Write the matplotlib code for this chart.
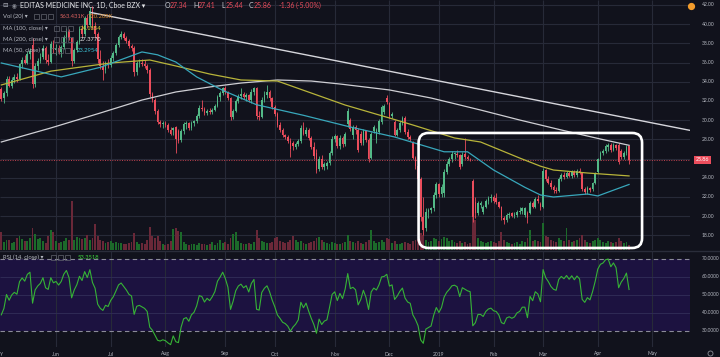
import numpy as np
import matplotlib
matplotlib.use("Agg")
import matplotlib.pyplot as plt
from matplotlib.patches import FancyBboxPatch, Rectangle
from matplotlib.lines import Line2D
import matplotlib.transforms as mtransforms

plt.rcParams['font.family'] = ['Lato', 'DejaVu Sans']

# ---------------- data (daily bars, index 0 = 1 Jun 2018) ----------------
first_index = -21
opens = [33.2, 32.3, 32.8, 34.3, 33.6, 34.2, 34.5, 34.3, 35.8, 36.3,
         36.0, 36.9, 37.8, 33.8, 35.6, 36.2, 36.6, 37.5, 36.3, 36.1,
         37.9, 37.3, 37.5, 37.1, 37.6, 38.7, 39.3, 38.6, 36.2, 37.3,
         38.1, 39.5, 39.0, 40.6, 39.9, 41.4, 39.8, 39.0, 36.4, 35.6,
         35.2, 35.9, 35.7, 36.5, 37.0, 37.8, 38.7, 39.0, 38.6, 38.2,
         37.7, 37.5, 35.0, 35.9, 36.0, 35.8, 35.6, 35.2, 32.7, 32.1,
         31.0, 29.8, 29.6, 29.7, 29.5, 29.0, 29.0, 29.3, 28.9, 27.9,
         28.9, 29.6, 29.7, 29.2, 29.7, 29.9, 30.4, 31.3, 31.2, 30.7,
         31.0, 30.8, 31.1, 31.5, 32.4, 32.8, 33.3, 32.9, 32.3, 30.3,
         31.0, 32.0, 32.5, 32.7, 32.4, 32.6, 32.1, 32.9, 33.3, 30.4,
         30.3, 32.1, 32.6, 32.9, 32.3, 31.4, 30.6, 29.5, 29.0, 28.4,
         28.2, 27.8, 27.6, 27.2, 27.5, 27.8, 29.2, 28.6, 29.0, 28.1,
         27.2, 26.6, 24.9, 26.0, 25.1, 25.2, 25.5, 26.6, 28.0, 28.3,
         27.3, 28.1, 27.5, 29.6, 30.0, 28.5, 29.3, 29.0, 28.6, 27.6,
         28.9, 27.9, 26.1, 28.9, 28.0, 28.8, 29.8, 30.8, 32.3, 31.8,
         30.4, 29.8, 28.5, 29.0, 29.7, 30.2, 28.8, 28.2, 27.6, 26.1,
         25.2, 23.9, 19.9, 18.8, 20.4, 20.6, 20.8, 22.2, 23.3, 22.3,
         22.4, 24.6, 25.4, 25.9, 26.5, 26.5, 26.4, 25.4, 26.5, 26.2,
         26.0, 23.7, 21.5, 20.3, 21.2, 20.4, 21.0, 21.6, 21.9, 22.0,
         21.9, 21.5, 21.0, 19.8, 19.6, 20.1, 20.3, 20.0, 20.1, 20.4,
         20.5, 20.1, 20.3, 20.3, 21.4, 21.0, 21.8, 21.3, 21.0, 24.8,
         23.9, 23.5, 23.0, 22.7, 22.6, 23.9, 24.3, 24.1, 24.5, 24.2,
         24.6, 24.3, 24.7, 24.5, 22.8, 22.5, 22.9, 22.8, 23.4, 24.6,
         26.0, 26.6, 26.8, 27.2, 27.4, 26.9, 27.4, 27.4, 26.8, 26.2,
         26.6, 27.34]
highs = [33.5, 33.0, 34.6, 34.6, 34.5, 34.8, 34.9, 36.0, 36.6, 36.8,
         37.2, 37.5, 38.6, 35.9, 36.5, 37.0, 37.8, 37.7, 36.9, 38.2,
         38.3, 37.9, 37.8, 37.8, 38.9, 39.6, 39.5, 38.7, 37.5, 38.3,
         39.8, 39.9, 40.8, 41.0, 41.8, 41.9, 40.2, 39.2, 37.3, 36.2,
         36.2, 36.4, 36.8, 37.2, 38.0, 38.9, 39.3, 39.2, 38.8, 38.4,
         37.9, 37.7, 36.2, 36.4, 36.4, 36.3, 35.8, 35.4, 32.9, 32.3,
         31.2, 30.0, 29.9, 29.9, 29.7, 29.3, 29.3, 29.4, 29.1, 29.1,
         29.8, 29.9, 29.8, 29.9, 30.0, 30.6, 31.6, 32.1, 31.4, 31.2,
         31.3, 31.3, 31.7, 32.6, 33.0, 33.5, 33.6, 33.0, 32.4, 31.2,
         32.2, 32.7, 33.3, 32.9, 32.8, 32.7, 33.2, 33.5, 33.5, 30.9,
         32.4, 33.0, 33.7, 33.1, 32.4, 31.6, 30.8, 29.8, 29.2, 28.6,
         28.4, 28.1, 27.8, 27.7, 28.0, 29.5, 29.8, 29.3, 29.2, 28.3,
         27.7, 27.0, 26.3, 26.4, 25.6, 25.7, 26.8, 28.3, 28.6, 28.5,
         28.4, 28.3, 28.8, 31.3, 30.2, 29.5, 29.5, 29.2, 28.9, 29.1,
         29.0, 28.1, 28.8, 29.5, 29.2, 30.1, 31.6, 31.7, 32.6, 31.9,
         30.8, 30.0, 29.2, 29.9, 30.4, 30.4, 29.1, 28.5, 27.8, 26.3,
         25.5, 24.1, 22.0, 20.8, 20.8, 21.0, 22.5, 23.6, 23.5, 23.3,
         24.9, 25.7, 26.2, 26.8, 26.7, 26.9, 26.5, 26.7, 28.1, 26.4,
         26.1, 23.9, 22.0, 21.6, 21.6, 21.2, 21.8, 22.1, 22.3, 22.2,
         22.4, 21.6, 21.1, 20.0, 20.3, 20.4, 20.4, 20.4, 20.6, 21.0,
         21.0, 21.0, 20.5, 21.6, 21.6, 22.0, 22.2, 21.5, 25.0, 24.9,
         24.2, 23.8, 23.2, 23.0, 24.1, 24.5, 24.6, 24.7, 24.7, 24.8,
         24.8, 24.9, 25.0, 24.6, 23.0, 23.1, 23.0, 23.6, 24.6, 26.1,
         26.8, 27.0, 27.5, 27.6, 27.6, 27.6, 27.5, 27.6, 27.0, 26.8,
         27.4, 27.41]
lows = [32.0, 31.8, 32.5, 33.4, 33.3, 33.9, 34.0, 34.2, 35.4, 35.8,
        35.8, 36.4, 33.3, 33.5, 35.2, 35.9, 36.4, 36.0, 35.7, 36.0,
        37.0, 36.8, 36.9, 36.6, 37.4, 38.4, 38.3, 35.6, 36.0, 37.1,
        37.9, 38.7, 38.8, 39.6, 39.7, 39.5, 38.6, 36.0, 35.3, 34.2,
        34.9, 35.4, 35.5, 36.2, 36.8, 37.6, 38.4, 38.3, 38.0, 37.5,
        37.2, 34.6, 34.7, 35.5, 35.6, 35.4, 34.9, 32.4, 31.9, 30.6,
        29.6, 29.3, 29.2, 29.3, 28.8, 28.4, 28.5, 26.6, 27.6, 27.7,
        28.6, 29.1, 29.0, 29.0, 29.4, 29.7, 30.2, 30.9, 30.5, 30.5,
        30.6, 30.6, 30.9, 31.4, 32.0, 32.6, 32.7, 32.1, 30.0, 30.1,
        30.8, 31.8, 32.2, 32.2, 32.0, 31.9, 31.8, 32.6, 30.1, 30.0,
        30.2, 31.9, 32.3, 32.0, 31.2, 30.4, 29.3, 28.8, 28.2, 28.0,
        27.6, 26.2, 26.9, 27.0, 27.3, 27.6, 28.5, 28.3, 27.9, 27.0,
        26.0, 24.5, 24.7, 24.9, 24.8, 24.9, 25.3, 26.4, 27.7, 27.1,
        27.0, 27.2, 27.3, 29.3, 28.9, 28.0, 28.6, 26.7, 27.4, 27.4,
        27.7, 25.6, 25.9, 28.7, 27.6, 28.6, 29.6, 30.6, 31.7, 30.2,
        30.2, 28.3, 28.3, 28.8, 29.5, 28.6, 28.0, 27.8, 25.9, 24.9,
        23.6, 19.5, 18.0, 18.5, 19.8, 20.3, 20.5, 21.9, 22.0, 22.0,
        22.0, 24.4, 25.2, 25.6, 26.0, 26.2, 24.9, 25.2, 25.9, 25.8,
        25.7, 19.4, 19.8, 20.1, 20.8, 20.2, 20.8, 21.3, 21.5, 21.4,
        21.3, 20.8, 19.6, 19.2, 19.4, 19.8, 19.9, 19.8, 19.9, 20.2,
        20.2, 19.9, 19.3, 20.2, 20.8, 20.8, 21.4, 20.6, 20.8, 23.7,
        23.3, 22.8, 22.4, 22.4, 22.5, 23.7, 23.9, 24.0, 24.1, 24.0,
        24.1, 24.1, 24.4, 22.6, 22.3, 22.3, 22.5, 22.6, 23.3, 24.5,
        25.8, 26.4, 26.6, 26.8, 26.7, 26.8, 26.9, 25.4, 26.0, 25.9,
        26.4, 25.44]
closes = [32.2, 32.8, 34.3, 33.6, 34.2, 34.5, 34.3, 35.8, 36.3, 36.0,
          36.9, 37.2, 33.8, 35.6, 36.2, 36.6, 37.5, 36.3, 36.1, 37.9,
          37.3, 37.5, 37.1, 37.6, 38.7, 39.3, 38.6, 36.2, 37.3, 38.1,
          39.5, 39.0, 40.6, 39.9, 41.4, 39.8, 39.0, 36.4, 35.6, 35.2,
          35.9, 35.7, 36.5, 37.0, 37.8, 38.7, 39.0, 38.6, 38.2, 37.7,
          37.5, 35.0, 35.9, 36.0, 35.8, 35.6, 35.2, 32.7, 32.1, 31.0,
          29.8, 29.6, 29.7, 29.5, 29.0, 28.6, 29.2, 28.0, 27.8, 28.9,
          29.6, 29.7, 29.2, 29.7, 29.9, 30.4, 31.3, 31.2, 30.7, 31.0,
          30.8, 31.1, 31.5, 32.4, 32.8, 33.3, 32.9, 32.3, 30.3, 31.0,
          32.0, 32.5, 32.7, 32.4, 32.6, 32.1, 32.9, 33.3, 30.4, 30.3,
          32.1, 32.6, 32.9, 32.3, 31.4, 30.6, 29.5, 29.0, 28.4, 28.2,
          27.8, 27.0, 27.3, 27.5, 27.8, 29.2, 28.6, 29.0, 28.1, 27.2,
          26.3, 24.8, 26.0, 25.1, 25.4, 25.5, 26.6, 28.0, 28.3, 27.3,
          28.1, 27.5, 28.6, 30.9, 29.1, 29.3, 29.0, 26.9, 27.6, 28.9,
          27.9, 25.9, 28.6, 29.3, 29.0, 29.9, 31.4, 31.5, 31.9, 30.4,
          30.6, 28.5, 29.0, 29.7, 30.2, 28.8, 28.2, 28.0, 26.1, 25.2,
          23.9, 19.9, 18.6, 20.4, 20.6, 20.8, 22.2, 23.3, 22.3, 23.0,
          24.6, 25.4, 25.9, 26.5, 26.6, 26.4, 25.1, 26.4, 26.2, 26.0,
          25.9, 19.9, 20.3, 21.4, 21.4, 21.0, 21.6, 21.9, 22.0, 21.6,
          21.5, 21.0, 19.8, 19.6, 20.1, 20.2, 20.0, 20.1, 20.4, 20.5,
          20.8, 20.8, 19.8, 21.4, 21.0, 21.8, 21.6, 20.9, 24.7, 23.9,
          23.5, 23.0, 22.7, 22.6, 23.9, 24.3, 24.1, 24.5, 24.2, 24.6,
          24.3, 24.7, 24.5, 22.8, 22.5, 22.9, 22.7, 23.4, 24.4, 25.9,
          26.6, 26.8, 27.3, 27.4, 26.9, 27.4, 27.1, 25.6, 26.2, 26.6,
          27.22, 25.86]
volumes_k = [1980, 880, 1100, 1100, 770, 880, 1320, 1540, 1210, 990,
             990, 1320, 2420, 1760, 1210, 1320, 990, 770, 1540, 2200,
             1980, 990, 770, 880, 990, 1320, 1100, 5390, 1100, 1430,
             1320, 1210, 1320, 1650, 1100, 1320, 2860, 1540, 1100, 990,
             770, 880, 990, 770, 880, 770, 770, 660, 660, 770,
             880, 1870, 880, 660, 770, 660, 1100, 2530, 1540, 1320,
             1540, 990, 660, 550, 660, 990, 2310, 2420, 2090, 1980,
             880, 660, 550, 660, 660, 550, 770, 660, 660, 550,
             660, 880, 550, 770, 1100, 770, 880, 660, 1320, 1760,
             1980, 990, 770, 660, 660, 770, 660, 880, 2200, 1320,
             990, 880, 770, 770, 880, 1320, 1430, 990, 880, 770,
             880, 1100, 1540, 1100, 880, 990, 770, 660, 770, 880,
             990, 1320, 1430, 1100, 880, 770, 660, 880, 770, 660,
             660, 770, 880, 1650, 990, 880, 770, 990, 770, 660,
             880, 1100, 2200, 990, 770, 880, 1100, 880, 1320, 1210,
             770, 990, 660, 660, 770, 880, 770, 660, 990, 1100,
             1210, 1870, 1650, 1100, 880, 990, 1320, 1210, 990, 1210,
             1430, 1320, 990, 1100, 880, 770, 990, 770, 880, 660,
             770, 4950, 3300, 1320, 990, 880, 770, 880, 990, 880,
             770, 990, 1980, 1100, 880, 770, 660, 770, 880, 660,
             990, 880, 1320, 2200, 990, 1100, 990, 880, 2970, 1540,
             1430, 1100, 990, 880, 1320, 1100, 990, 2420, 1100, 880,
             990, 1100, 1320, 1650, 1100, 880, 770, 990, 1100, 1320,
             1100, 880, 770, 990, 880, 770, 880, 1320, 990, 770,
             880, 563.431]
# closes of the bars just before the visible window (RSI warm-up only)
warmup_closes = [34.6, 35.4, 34.9, 35.8, 35.1, 34.2, 34.8, 33.9, 34.5, 33.6,
                 34.1, 33.2, 33.8, 33.0, 33.4]

# moving averages (bar index, value)
ma50_idx = [-21, -9, 2, 17, 30, 33, 39, 46, 54, 64, 77, 95, 113, 130, 149, 158,
            168, 180, 186, 191, 204, 208, 214, 220]
ma50_val = [35.95, 35.2, 34.5, 35.5, 36.8, 37.1, 36.8, 36.05, 34.5, 33.1, 31.6, 30.5,
            29.28, 28.24, 26.7, 26.7, 24.8, 23.0, 22.2, 21.99, 22.3, 22.1, 22.7, 23.2954]
ma100_idx = [-21, -2, 21, 36, 46, 59, 71, 85, 98, 111, 128, 137, 153, 163, 178, 186,
             191, 204, 220]
ma100_val = [33.66, 35.1, 35.95, 36.26, 35.64, 34.8, 34.18, 34.07, 32.82, 31.57, 30.22,
             29.49, 28.14, 27.72, 26.05, 25.2, 24.8, 24.49, 24.1854]
ma200_idx = [-21, -2, 17, 33, 46, 59, 71, 85, 98, 109, 128, 144, 163, 178, 194, 209, 220]
ma200_val = [27.72, 29.18, 30.74, 32.09, 32.93, 33.45, 33.86, 34.18, 34.07, 33.76, 33.14,
             32.3, 31.05, 30.01, 28.97, 28.03, 27.377]
trend_idx = [13.5, 247.0]
trend_price = [41.2, 28.74]

month_labels = ["May", "Jun", "Jul", "Aug", "Sep", "Oct", "Nov", "Dec", "2019",
                "Feb", "Mar", "Apr", "May"]
month_pos = [-22, 0, 21, 42, 65, 84, 107, 128, 147, 168, 187, 208, 229]
price_ticks = [18, 20, 22, 24, 26, 28, 30, 32, 34, 36, 38, 40, 42]
rsi_ticks = [30, 40, 50, 60, 70]

# ---------------- style ----------------
W, H = 720, 357
BG = '#11121c'
GRID = '#272a38'
UP = '#53b987'
DOWN = '#eb4d5c'
VUP = '#1c6a2a'
VDOWN = '#6a2838'
TXT = '#b4b7c0'

o = np.array(opens); hi = np.array(highs); lo = np.array(lows); c = np.array(closes)
v = np.array(volumes_k)
n = len(c)
idx = np.arange(first_index, first_index + n)
up = c >= o
cols = np.where(up, UP, DOWN)
vcols = np.where(up, VUP, VDOWN)

fig = plt.figure(figsize=(W / 100, H / 100), dpi=100, facecolor=BG)


def fx(px):
    return px / W


def fy(py):
    return 1 - py / H


XL = (-21.5, 243.4)

# ---------------- main pane ----------------
axv = fig.add_axes([0, fy(250), fx(690), fy(0) - fy(250)])
axv.set_facecolor(BG)
ax = fig.add_axes([0, fy(250), fx(690), fy(0) - fy(250)], sharex=axv)
ax.patch.set_visible(False)
ax.set_xlim(*XL)
ax.set_ylim(16.47, 42.51)
axv.set_ylim(0, 27500)
for a in (ax, axv):
    for s in a.spines.values():
        s.set_visible(False)
    a.tick_params(left=False, bottom=False, right=False, top=False,
                  labelleft=False, labelbottom=False, labelright=False)

# grid on the bottom layer
axv.vlines(month_pos, 0, 27500, color=GRID, lw=0.8, zorder=0)
axv.hlines(price_ticks, XL[0], XL[1], color=GRID, lw=0.8, zorder=0,
           transform=ax.transData)
axv.bar(idx, v, width=0.72, color=vcols, linewidth=0, zorder=1)

# candles
ax.vlines(idx, lo, hi, colors=cols, lw=0.6, zorder=3)
ax.bar(idx, np.maximum(np.abs(c - o), 0.06), bottom=np.minimum(o, c), width=0.66,
       color=cols, linewidth=0, zorder=4)

# moving averages + trend line
ax.plot(ma200_idx, ma200_val, color='#cfcfd4', lw=0.9, zorder=5)
ax.plot(ma100_idx, ma100_val, color='#b8b43a', lw=0.9, zorder=5)
ax.plot(ma50_idx, ma50_val, color='#38a7bb', lw=0.9, zorder=5)
ax.plot(trend_idx, trend_price, color='#d6d6dc', lw=1.0, zorder=5, clip_on=True)

# last price line
ax.axhline(c[-1], color=DOWN, lw=0.7, ls=(0, (1, 1.5)), alpha=0.8, zorder=2)

# highlight box (rounded)
box = FancyBboxPatch((139.2, 16.68), 225.0 - 139.2, 28.66 - 16.68,
                     boxstyle="round,pad=0,rounding_size=3.8", mutation_aspect=0.27,
                     fc='none', ec='white', lw=1.9, zorder=6)
ax.add_patch(box)

# price scale labels (the one hidden behind the last-price tag is skipped)
bt = mtransforms.blended_transform_factory(ax.transAxes, ax.transData)
for p in price_ticks:
    if abs(p - c[-1]) < 1.0:
        continue
    ax.text(1 + 12 / 690, p, f"{p:.2f}", transform=bt, ha='left', va='center',
            fontsize=3.6, color=TXT, clip_on=False)
ax.text(1 + 6 / 690, c[-1], f"{c[-1]:.2f}", transform=bt, ha='left', va='center',
        fontsize=3.8, color='white', clip_on=False,
        bbox=dict(boxstyle='square,pad=0.35', fc=DOWN, ec='none'))

# ---------------- RSI pane ----------------
all_c = np.array(warmup_closes + closes)
d = np.diff(all_c)
g = np.clip(d, 0, None)
l_ = np.clip(-d, 0, None)
P = 14
ag = g[:P].mean()
al = l_[:P].mean()
rsi_all = [np.nan] * P
rsi_all.append(100 - 100 / (1 + ag / al))
for i in range(P, len(d)):
    ag = (ag * (P - 1) + g[i]) / P
    al = (al * (P - 1) + l_[i]) / P
    rsi_all.append(100 - 100 / (1 + ag / al) if al > 0 else 100)
rsi = np.array(rsi_all)[len(warmup_closes):]

axr = fig.add_axes([0, fy(347), fx(690), fy(251) - fy(347)])
axr.set_facecolor(BG)
axr.set_xlim(*XL)
axr.set_ylim(21.1, 74.44)
for s in axr.spines.values():
    s.set_visible(False)
axr.tick_params(left=False, bottom=False, labelleft=False, labelbottom=False)
axr.axhspan(30, 70, color='#1c1240', lw=0, zorder=0)
axr.vlines(month_pos, 21.1, 74.44, color=GRID, lw=0.8, zorder=1)
axr.hlines([40, 50, 60], XL[0], XL[1], color='#2f2a55', lw=0.7, zorder=1)
axr.hlines([30, 70], XL[0], XL[1], color='#8b8b99', lw=0.8, ls=(0, (4, 3)), zorder=2)
axr.plot(idx, rsi, color='#36b336', lw=0.8, zorder=3)

btr = mtransforms.blended_transform_factory(axr.transAxes, axr.transData)
for r in rsi_ticks:
    axr.text(1 + 12 / 690, r, f"{r:.4f}", transform=btr, ha='left', va='center',
             fontsize=3.4, color=TXT, clip_on=False)

btx = mtransforms.blended_transform_factory(axr.transData, axr.transAxes)
for m, lab in zip(month_pos, month_labels):
    axr.text(m, -7.0 / 96, lab, transform=btx, ha='center', va='center',
             fontsize=3.6, color=TXT, clip_on=False)

# pane separator
fig.add_artist(Line2D([0, 1], [fy(250.5), fy(250.5)], color='#2a2d3a', lw=1.0,
                      transform=fig.transFigure))

# ---------------- header / legends ----------------
def ftext(x, y, s, color=TXT, size=4.2, **kw):
    fig.text(fx(x), fy(y), s, color=color, fontsize=size, ha='left', va='center', **kw)


def icons(x0, y, step=7):
    for k in range(3):
        fig.add_artist(Rectangle((fx(x0 + k * step), fy(y + 2.6)), 5.2 / W, 5.2 / H,
                                 transform=fig.transFigure, fill=False,
                                 ec='#62656f', lw=0.5))


ftext(2, 5.8, "⊟", size=4.6)
ftext(12, 5.8, "◉", size=4.0, color='#8a8d96')
ftext(20, 5.8, "EDITAS MEDICINE INC, 1D, Cboe BZX ▾", color='#e6e7ea', size=5.0)
for x, lab, val in [(165, "O", "27.34"), (193, "H", "27.41"), (221, "L", "25.44"),
                    (249, "C", "25.86")]:
    ftext(x, 5.8, lab, color='#d0d2d8', size=5.0)
    ftext(x + 4.5, 5.8, val, color=DOWN, size=5.0)
ftext(279, 5.8, "-1.36", color=DOWN, size=5.0)
ftext(296, 5.8, "(-5.00%)", color=DOWN, size=5.0)

ftext(3, 16.7, "Vol (20) ▾")
icons(34, 16.7)
ftext(60, 16.7, "563.431K", color='#d9615f')
ftext(88, 16.7, "720.208K", color='#d98a2b')

ftext(3, 28.3, "MA (100, close) ▾")
icons(54, 28.3)
ftext(80, 28.3, "24.1854", color='#d8d43c')

ftext(3, 39.3, "MA (200, close) ▾")
icons(54, 39.3)
ftext(80, 39.3, "27.3770", color='#e8e8ea')

ftext(3, 50.7, "MA (50, close) ▾")
icons(51, 50.7)
ftext(77, 50.7, "23.2954", color='#3cc0d4')

ftext(3, 257.3, "RSI (14, close) ▾")
icons(51, 257.3)
ftext(78, 257.3, "53.3518", color='#3bd13b')

# small UI markers
fig.add_artist(Line2D([fx(691)], [fy(6)], marker='o', ms=4.2, color='#f39c2c',
                      transform=fig.transFigure, lw=0))
fig.add_artist(Line2D([fx(710)], [fy(352.5)], marker='o', ms=3.6, mfc='none',
                      mec='#8a8d96', mew=0.6, transform=fig.transFigure, lw=0))

fig.savefig("out.png", dpi=100, facecolor=BG)
